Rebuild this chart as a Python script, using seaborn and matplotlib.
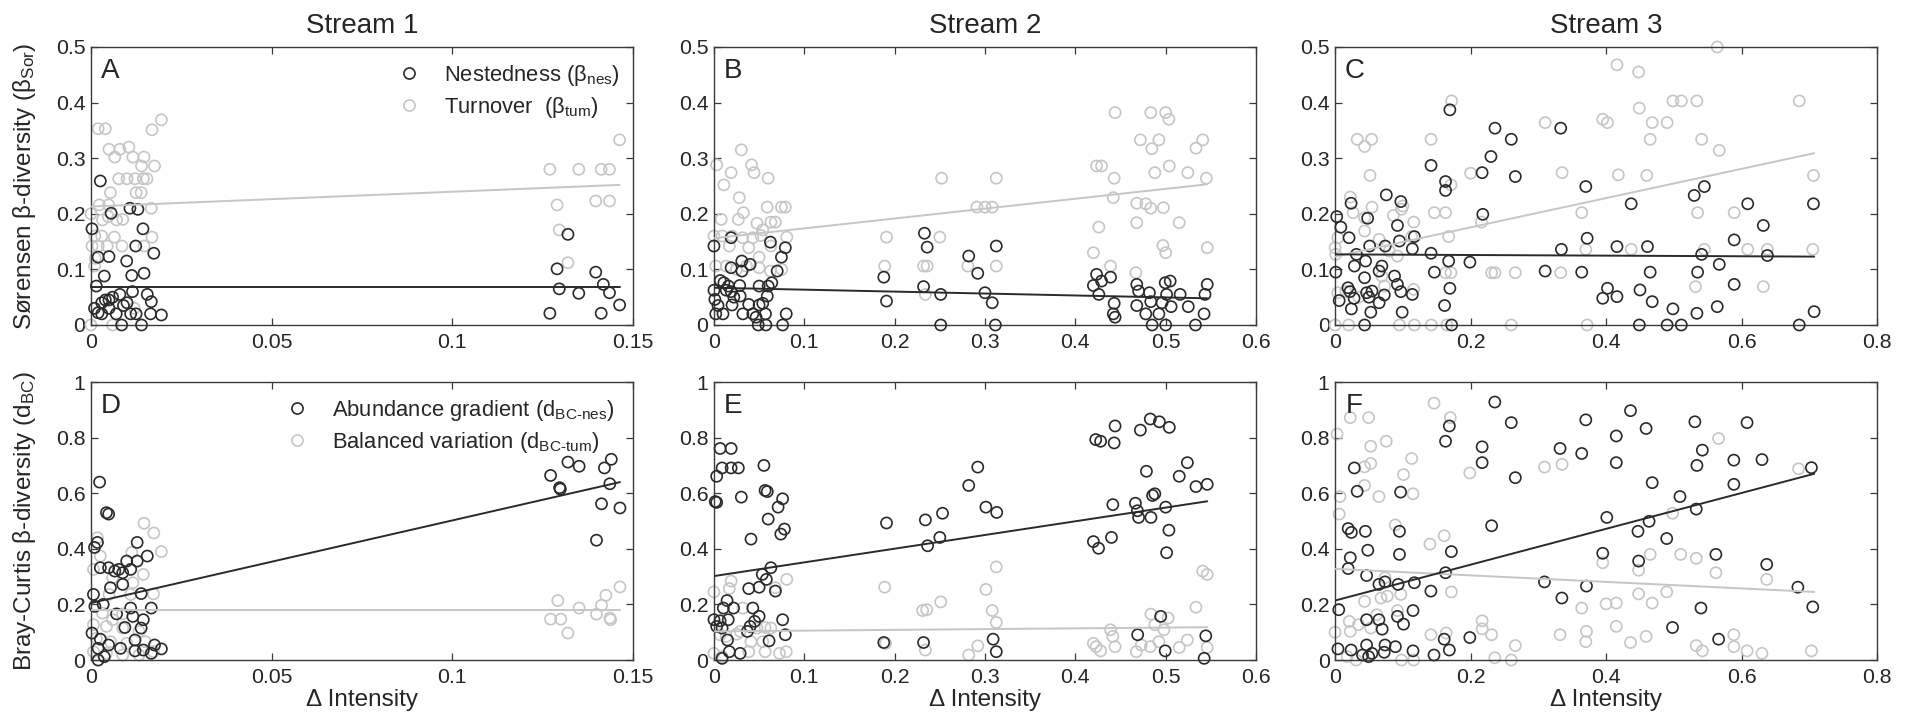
import matplotlib
matplotlib.use("Agg")
import matplotlib.pyplot as plt
import seaborn as sns
import numpy as np
from matplotlib.lines import Line2D
from matplotlib.ticker import FuncFormatter

# ---------------- data ----------------
streams = ["Stream 1", "Stream 2", "Stream 3"]
panel_letters = ["A", "B", "C", "D", "E", "F"]

A_nes = [(0.0026,0.259),(0.0003,0.173),(0.0056,0.201),(0.002,0.122),(0.005,0.123),(0.0037,0.088),(0.0099,0.115),(0.0108,0.210),(0.013,0.208),(0.0144,0.173),(0.0124,0.142),(0.0113,0.089),(0.0147,0.093),(0.0174,0.129),(0.0167,0.042),(0.0156,0.055),(0.0195,0.018),(0.014,0.0),(0.0085,0.0),(0.002,0.022),(0.003,0.04),(0.004,0.045),(0.005,0.03),(0.006,0.05),(0.008,0.055),(0.009,0.035),(0.010,0.04),(0.011,0.02),(0.0125,0.02),(0.003,0.02),(0.001,0.03),(0.007,0.02),(0.005,0.045),(0.0015,0.07),(0.0115,0.06),(0.0165,0.02),
         (0.127,0.021),(0.129,0.101),(0.1296,0.065),(0.132,0.163),(0.135,0.057),(0.1397,0.095),(0.1418,0.073),(0.1412,0.021),(0.1435,0.058),(0.1463,0.036)]
A_tum = [(0.002,0.353),(0.004,0.353),(0.005,0.316),(0.008,0.316),(0.0105,0.32),(0.0066,0.302),(0.0116,0.302),(0.0147,0.302),(0.014,0.286),(0.0176,0.286),(0.0169,0.351),(0.0195,0.369),(0.0077,0.263),(0.010,0.263),(0.0122,0.263),(0.0145,0.263),(0.0155,0.263),(0.0054,0.238),(0.0125,0.238),(0.0139,0.238),(0.0023,0.216),(0.0049,0.216),(0.0167,0.21),(0.0032,0.189),(0.0071,0.189),(0.0088,0.19),(0.0011,0.16),(0.003,0.16),(0.0065,0.158),(0.0169,0.158),(0.0003,0.142),(0.002,0.142),(0.0045,0.142),(0.0086,0.142),(0.0147,0.142),(0.001,0.106),(0.0012,0.12),(0.0,0.2),(0.0048,0.195),(0.0,0.0),(0.006,0.0),(0.012,0.03),
         (0.127,0.28),(0.135,0.28),(0.1412,0.28),(0.1435,0.28),(0.1463,0.333),(0.129,0.216),(0.1397,0.223),(0.1435,0.223),(0.1296,0.171),(0.132,0.112)]

B_nes = [(0.0,0.142),(0.019,0.157),(0.0,0.0625),(0.001,0.046),(0.0045,0.035),(0.002,0.02),(0.01,0.02),(0.011,0.076),(0.0136,0.0625),(0.019,0.06),(0.02,0.036),(0.022,0.05),(0.019,0.103),(0.031,0.097),(0.0308,0.115),(0.04,0.109),(0.0285,0.071),(0.029,0.052),(0.032,0.02),(0.0385,0.037),(0.043,0.02),(0.0466,0.014),(0.05,0.07),(0.05,0.036),(0.049,0.0),(0.054,0.039),(0.057,0.02),(0.059,0.052),(0.06,0.07),(0.0575,0.0),(0.0625,0.149),(0.064,0.076),(0.07,0.097),(0.0747,0.122),(0.079,0.139),(0.08,0.02),(0.076,0.0),(0.016,0.07),(0.007,0.08),
         (0.188,0.086),(0.191,0.043),(0.233,0.165),(0.236,0.14),(0.232,0.069),(0.251,0.055),(0.251,0.0),(0.282,0.124),(0.292,0.093),(0.30,0.058),(0.308,0.04),(0.3125,0.142),(0.3115,0.0),
         (0.4235,0.091),(0.42,0.071),(0.429,0.079),(0.426,0.055),(0.439,0.086),(0.443,0.039),(0.442,0.02),(0.444,0.014),(0.468,0.073),(0.47,0.061),(0.468,0.035),(0.482,0.058),(0.4835,0.042),(0.478,0.02),(0.485,0.0),(0.4925,0.02),(0.496,0.04),(0.4995,0.076),(0.505,0.079),(0.501,0.055),(0.506,0.033),(0.5,0.0),(0.516,0.055),(0.525,0.033),(0.533,0.0),(0.5425,0.02),(0.546,0.073),(0.5435,0.055)]
B_tum = [(0.003,0.288),(0.011,0.252),(0.019,0.274),(0.0303,0.315),(0.0417,0.288),(0.0444,0.274),(0.06,0.264),(0.028,0.229),(0.0326,0.202),(0.027,0.19),(0.008,0.19),(0.059,0.212),(0.0747,0.212),(0.079,0.212),(0.0476,0.183),(0.054,0.171),(0.063,0.185),(0.068,0.185),(0.0,0.16),(0.009,0.16),(0.017,0.142),(0.02,0.16),(0.0317,0.157),(0.043,0.157),(0.052,0.161),(0.0806,0.158),(0.0385,0.139),(0.05,0.122),(0.063,0.142),(0.002,0.106),(0.0136,0.106),(0.025,0.1),(0.036,0.106),(0.05,0.103),(0.0625,0.097),(0.075,0.1),
         (0.191,0.158),(0.189,0.106),(0.252,0.264),(0.25,0.158),(0.232,0.106),(0.236,0.106),(0.234,0.055),(0.3125,0.264),(0.3125,0.106),(0.291,0.212),(0.30,0.212),(0.308,0.212),(0.281,0.106),
         (0.444,0.382),(0.4835,0.382),(0.5,0.382),(0.5035,0.37),(0.472,0.333),(0.4925,0.333),(0.4846,0.317),(0.4235,0.286),(0.429,0.286),(0.504,0.286),(0.488,0.274),(0.443,0.264),(0.442,0.229),(0.468,0.219),(0.478,0.218),(0.4835,0.21),(0.4975,0.211),(0.426,0.176),(0.468,0.184),(0.515,0.184),(0.42,0.13),(0.497,0.143),(0.5,0.13),(0.439,0.106),(0.467,0.094),(0.5245,0.274),(0.5335,0.318),(0.541,0.333),(0.545,0.264),(0.546,0.139)]

C_nes = [(0.0024,0.195),(0.0085,0.176),(0.001,0.095),(0.006,0.044),(0.0206,0.157),(0.0236,0.219),(0.022,0.06),(0.028,0.048),(0.024,0.029),(0.019,0.067),(0.0315,0.127),(0.0285,0.106),(0.048,0.192),(0.051,0.142),(0.045,0.115),(0.0435,0.085),(0.0466,0.058),(0.05,0.05),(0.0545,0.061),(0.0527,0.023),(0.0436,0.0),(0.065,0.097),(0.069,0.106),(0.074,0.142),(0.0756,0.234),(0.0726,0.054),(0.065,0.04),(0.0877,0.088),(0.092,0.073),(0.097,0.06),(0.092,0.179),(0.095,0.151),(0.097,0.222),(0.099,0.023),(0.114,0.055),(0.114,0.137),(0.117,0.159),(0.1416,0.287),(0.1416,0.129),(0.1465,0.095),(0.163,0.258),(0.163,0.242),(0.1616,0.035),(0.1694,0.387),(0.1676,0.115),(0.1694,0.066),(0.172,0.0),(0.199,0.113),(0.217,0.274),(0.218,0.199),(0.23,0.303),(0.236,0.354),(0.26,0.334),(0.266,0.267),(0.31,0.097),(0.333,0.354),(0.334,0.136),(0.364,0.095),(0.37,0.249),(0.372,0.156),(0.395,0.048),(0.402,0.066),(0.416,0.051),(0.416,0.141),(0.437,0.218),(0.449,0.0),(0.45,0.063),(0.461,0.141),(0.465,0.095),(0.468,0.042),(0.49,0.0),(0.4986,0.029),(0.511,0.0),(0.53,0.233),(0.535,0.095),(0.534,0.021),(0.541,0.127),(0.545,0.249),(0.564,0.033),(0.567,0.109),(0.589,0.153),(0.589,0.073),(0.609,0.218),(0.632,0.179),(0.638,0.125),(0.685,0.0),(0.706,0.218),(0.707,0.024)]
C_tum = [(0.0,0.0),(0.02,0.0),(0.095,0.0),(0.117,0.0),(0.142,0.0),(0.165,0.0),(0.26,0.0),(0.372,0.0),(0.0327,0.334),(0.0436,0.321),(0.054,0.334),(0.0515,0.269),(0.0224,0.23),(0.0266,0.202),(0.0545,0.212),(0.0436,0.193),(0.0436,0.169),(0.065,0.154),(0.0,0.139),(0.004,0.157),(0.001,0.127),(0.004,0.058),(0.016,0.06),(0.035,0.05),(0.086,0.197),(0.098,0.208),(0.1,0.214),(0.116,0.185),(0.113,0.159),(0.069,0.088),(0.073,0.07),(0.08,0.133),(0.092,0.124),(0.116,0.064),(0.1416,0.334),(0.1465,0.202),(0.163,0.202),(0.172,0.403),(0.1676,0.159),(0.171,0.252),(0.163,0.094),(0.171,0.094),(0.2,0.273),(0.216,0.185),(0.231,0.094),(0.236,0.094),(0.266,0.094),(0.31,0.364),(0.335,0.274),(0.333,0.094),(0.364,0.202),(0.37,0.136),(0.395,0.37),(0.402,0.364),(0.416,0.468),(0.418,0.27),(0.437,0.136),(0.448,0.455),(0.449,0.39),(0.465,0.334),(0.468,0.364),(0.46,0.269),(0.49,0.364),(0.4986,0.403),(0.511,0.403),(0.534,0.403),(0.541,0.334),(0.535,0.202),(0.532,0.069),(0.545,0.136),(0.564,0.5),(0.567,0.314),(0.589,0.202),(0.609,0.136),(0.632,0.069),(0.638,0.136),(0.685,0.403),(0.706,0.269),(0.705,0.136)]

D_nes = [(0.0024,0.64),(0.0049,0.525),(0.0043,0.53),(0.0018,0.423),(0.001,0.405),(0.0128,0.423),(0.0128,0.356),(0.0156,0.374),(0.0099,0.356),(0.011,0.326),(0.0026,0.332),(0.0049,0.332),(0.0066,0.32),(0.0077,0.326),(0.0088,0.314),(0.0088,0.272),(0.0054,0.26),(0.0007,0.236),(0.0139,0.239),(0.0011,0.193),(0.0034,0.2),(0.0071,0.166),(0.0167,0.187),(0.011,0.187),(0.0116,0.157),(0.0145,0.145),(0.0139,0.115),(0.0094,0.117),(0.0003,0.097),(0.0026,0.075),(0.002,0.042),(0.0049,0.054),(0.0082,0.042),(0.0122,0.033),(0.0145,0.036),(0.0122,0.072),(0.0167,0.024),(0.0176,0.054),(0.0195,0.04),(0.002,0.0),(0.0037,0.012),
         (0.1272,0.664),(0.1297,0.62),(0.1299,0.615),(0.132,0.712),(0.1351,0.697),(0.1421,0.691),(0.144,0.722),(0.1436,0.634),(0.1413,0.562),(0.1464,0.547),(0.1399,0.431)]
D_tum = [(0.0147,0.492),(0.0174,0.457),(0.0195,0.39),(0.0018,0.44),(0.0007,0.326),(0.0026,0.374),(0.006,0.296),(0.0116,0.278),(0.0145,0.308),(0.0113,0.387),(0.005,0.236),(0.011,0.236),(0.0173,0.238),(0.0032,0.169),(0.006,0.145),(0.0088,0.166),(0.0007,0.127),(0.0043,0.121),(0.0088,0.115),(0.0133,0.103),(0.0015,0.078),(0.0054,0.066),(0.0099,0.06),(0.015,0.066),(0.0007,0.03),(0.0043,0.024),(0.0088,0.018),(0.0133,0.018),(0.0173,0.03),
         (0.1464,0.263),(0.1425,0.233),(0.1413,0.197),(0.1292,0.214),(0.1351,0.187),(0.1272,0.147),(0.13,0.147),(0.1399,0.165),(0.1436,0.151),(0.1438,0.145),(0.132,0.097)]

E_nes = [(0.0068,0.761),(0.019,0.761),(0.003,0.661),(0.009,0.691),(0.019,0.691),(0.027,0.691),(0.0014,0.57),(0.003,0.567),(0.0303,0.586),(0.0553,0.7),(0.0566,0.61),(0.059,0.606),(0.06,0.507),(0.071,0.55),(0.076,0.58),(0.078,0.471),(0.074,0.453),(0.041,0.435),(0.063,0.332),(0.0535,0.308),(0.058,0.29),(0.068,0.248),(0.0385,0.257),(0.05,0.262),(0.0145,0.214),(0.0104,0.187),(0.0217,0.187),(0.0,0.145),(0.0068,0.141),(0.0158,0.145),(0.003,0.121),(0.009,0.115),(0.043,0.187),(0.05,0.157),(0.045,0.139),(0.04,0.121),(0.037,0.103),(0.076,0.145),(0.079,0.091),(0.061,0.069),(0.015,0.072),(0.017,0.03),(0.029,0.024),(0.009,0.006),
         (0.191,0.493),(0.234,0.504),(0.253,0.528),(0.2365,0.411),(0.25,0.441),(0.188,0.063),(0.232,0.063),(0.282,0.628),(0.292,0.694),(0.301,0.55),(0.313,0.531),(0.309,0.075),(0.3125,0.03),
         (0.4226,0.793),(0.428,0.787),(0.443,0.781),(0.444,0.842),(0.42,0.426),(0.4257,0.402),(0.44,0.441),(0.4415,0.559),(0.472,0.827),(0.483,0.867),(0.493,0.857),(0.504,0.837),(0.4787,0.679),(0.4665,0.564),(0.4687,0.537),(0.47,0.513),(0.4837,0.513),(0.4855,0.592),(0.488,0.598),(0.5,0.55),(0.5036,0.467),(0.501,0.386),(0.515,0.661),(0.524,0.71),(0.5335,0.624),(0.546,0.632),(0.469,0.091),(0.4945,0.157),(0.4995,0.033),(0.5426,0.006),(0.5444,0.087)]
E_tum = [(0.0,0.245),(0.019,0.284),(0.017,0.257),(0.032,0.187),(0.0806,0.29),(0.068,0.26),(0.0068,0.091),(0.0136,0.085),(0.029,0.103),(0.041,0.066),(0.0475,0.115),(0.0566,0.117),(0.063,0.115),(0.054,0.066),(0.0,0.024),(0.009,0.012),(0.0385,0.03),(0.0566,0.03),(0.0725,0.024),(0.08,0.03),(0.025,0.093),
         (0.189,0.262),(0.231,0.178),(0.2355,0.181),(0.251,0.209),(0.19,0.06),(0.234,0.036),(0.3125,0.335),(0.301,0.254),(0.308,0.178),(0.3125,0.135),(0.292,0.051),(0.282,0.018),
         (0.439,0.109),(0.4415,0.085),(0.444,0.048),(0.42,0.06),(0.423,0.048),(0.428,0.033),(0.4675,0.03),(0.473,0.054),(0.4837,0.165),(0.488,0.127),(0.4925,0.066),(0.498,0.109),(0.5027,0.151),(0.483,0.048),(0.515,0.045),(0.524,0.072),(0.5335,0.19),(0.541,0.32),(0.546,0.308),(0.546,0.045)]

F_nes = [(0.2357,0.928),(0.26,0.854),(0.37,0.864),(0.436,0.897),(0.531,0.857),(0.608,0.854),(0.1686,0.842),(0.163,0.787),(0.217,0.767),(0.217,0.71),(0.332,0.761),(0.364,0.743),(0.415,0.806),(0.415,0.71),(0.459,0.833),(0.534,0.7),(0.542,0.755),(0.5885,0.719),(0.63,0.721),(0.703,0.692),(0.0284,0.691),(0.0326,0.607),(0.0967,0.604),(0.266,0.656),(0.468,0.638),(0.5885,0.632),(0.509,0.588),(0.533,0.543),(0.401,0.513),(0.4634,0.499),(0.447,0.463),(0.4894,0.437),(0.231,0.483),(0.0193,0.473),(0.024,0.459),(0.0447,0.463),(0.095,0.463),(0.0224,0.368),(0.0483,0.395),(0.095,0.38),(0.1716,0.39),(0.0193,0.329),(0.0465,0.304),(0.163,0.314),(0.395,0.384),(0.448,0.356),(0.562,0.38),(0.637,0.344),(0.0647,0.272),(0.0737,0.281),(0.093,0.272),(0.117,0.278),(0.309,0.281),(0.371,0.266),(0.683,0.262),(0.1414,0.248),(0.3347,0.223),(0.0054,0.181),(0.115,0.178),(0.54,0.187),(0.705,0.191),(0.0465,0.145),(0.0647,0.145),(0.092,0.157),(0.101,0.129),(0.0695,0.111),(0.498,0.117),(0.0042,0.04),(0.0236,0.036),(0.0465,0.054),(0.0737,0.054),(0.089,0.048),(0.0405,0.018),(0.0495,0.012),(0.0544,0.024),(0.0725,0.028),(0.115,0.033),(0.146,0.018),(0.161,0.075),(0.1686,0.036),(0.1988,0.081),(0.566,0.075)]
F_tum = [(0.146,0.924),(0.0224,0.872),(0.0495,0.872),(0.17,0.872),(0.003,0.813),(0.0755,0.787),(0.0526,0.769),(0.566,0.797),(0.113,0.725),(0.0526,0.707),(0.0435,0.695),(0.1988,0.673),(0.309,0.694),(0.335,0.704),(0.684,0.688),(0.101,0.667),(0.0435,0.628),(0.0072,0.588),(0.0647,0.588),(0.115,0.598),(0.006,0.525),(0.498,0.528),(0.0888,0.486),(0.161,0.447),(0.14,0.417),(0.51,0.38),(0.533,0.366),(0.465,0.38),(0.395,0.35),(0.448,0.323),(0.562,0.314),(0.637,0.29),(0.0737,0.296),(0.1716,0.245),(0.0435,0.211),(0.0677,0.223),(0.077,0.23),(0.097,0.236),(0.4,0.202),(0.415,0.205),(0.448,0.238),(0.468,0.205),(0.4894,0.245),(0.364,0.187),(0.021,0.139),(0.0344,0.127),(0.0616,0.163),(0.092,0.178),(0.0,0.1),(0.0224,0.103),(0.0526,0.115),(0.217,0.141),(0.231,0.091),(0.217,0.112),(0.1414,0.091),(0.164,0.097),(0.371,0.103),(0.37,0.066),(0.332,0.091),(0.415,0.121),(0.436,0.063),(0.459,0.085),(0.5885,0.091),(0.5885,0.048),(0.608,0.033),(0.63,0.024),(0.703,0.033),(0.533,0.052),(0.542,0.033),(0.266,0.052),(0.2357,0.008),(0.26,0.0),(0.031,0.0),(0.098,0.0),(0.116,0.0),(0.018,0.012)]

# fitted trend lines (x-range, y at ends)
A_fit_nes = ([0.0, 0.1463], [0.069, 0.069]); A_fit_tum = ([0.0, 0.1463], [0.213, 0.252])
B_fit_nes = ([0.0, 0.546], [0.067, 0.048]);  B_fit_tum = ([0.0, 0.546], [0.156, 0.253])
C_fit_nes = ([0.0, 0.707], [0.127, 0.123]);  C_fit_tum = ([0.0, 0.707], [0.123, 0.309])
D_fit_nes = ([0.0, 0.1464], [0.205, 0.64]);  D_fit_tum = ([0.0, 0.1464], [0.181, 0.181])
E_fit_nes = ([0.0, 0.546], [0.302, 0.571]);  E_fit_tum = ([0.0, 0.546], [0.103, 0.118])
F_fit_nes = ([0.0, 0.707], [0.214, 0.67]);   F_fit_tum = ([0.0, 0.707], [0.328, 0.245])

x_ticks = [[0, 0.05, 0.1, 0.15], [0, 0.1, 0.2, 0.3, 0.4, 0.5, 0.6], [0, 0.2, 0.4, 0.6, 0.8]]
y_ticks_top = [0, 0.1, 0.2, 0.3, 0.4, 0.5]
y_ticks_bottom = [0, 0.2, 0.4, 0.6, 0.8, 1]

# ---------------- style ----------------
sns.set_style("ticks")
plt.rcParams["font.family"] = ["Liberation Sans", "DejaVu Sans"]
plt.rcParams["mathtext.fontset"] = "custom"
plt.rcParams["mathtext.rm"] = "Liberation Sans"
plt.rcParams["mathtext.it"] = "Liberation Sans:italic"
plt.rcParams["mathtext.default"] = "regular"

BLACK = "#2a2a2a"
GRAY = "#c6c6c6"
FRAME = "#3a3a3a"

fig = plt.figure(figsize=(19.1, 7.23), dpi=100)
lefts = [0.0476, 0.3738, 0.6990]
bottoms = [0.5505, 0.0871]
W, H = 0.2838, 0.3845

series = [(A_nes, A_tum, A_fit_nes, A_fit_tum), (B_nes, B_tum, B_fit_nes, B_fit_tum),
          (C_nes, C_tum, C_fit_nes, C_fit_tum), (D_nes, D_tum, D_fit_nes, D_fit_tum),
          (E_nes, E_tum, E_fit_nes, E_fit_tum), (F_nes, F_tum, F_fit_nes, F_fit_tum)]

fmt = FuncFormatter(lambda v, p: f"{v:g}")
MS = 64
TICK_FS = 15.3

for i, (nes, tum, fit_nes, fit_tum) in enumerate(series):
    r, c = divmod(i, 3)
    ax = fig.add_axes([lefts[c], bottoms[r], W, H])
    tx, ty = zip(*tum)
    nx, ny = zip(*nes)
    sns.scatterplot(x=list(tx), y=list(ty), ax=ax, s=MS, facecolors="none",
                    edgecolor=GRAY, linewidth=1.2, clip_on=False, zorder=2, legend=False)
    sns.scatterplot(x=list(nx), y=list(ny), ax=ax, s=MS, facecolors="none",
                    edgecolor=BLACK, linewidth=1.2, clip_on=False, zorder=3, legend=False)
    sns.lineplot(x=fit_tum[0], y=fit_tum[1], ax=ax, color=GRAY, linewidth=1.4, zorder=4, legend=False)
    sns.lineplot(x=fit_nes[0], y=fit_nes[1], ax=ax, color=BLACK, linewidth=1.4, zorder=5, legend=False)

    xt = x_ticks[c]
    yt = y_ticks_top if r == 0 else y_ticks_bottom
    ax.set_xlim(xt[0], xt[-1])
    ax.set_ylim(yt[0], yt[-1])
    ax.set_xticks(xt)
    ax.set_yticks(yt)
    ax.xaxis.set_major_formatter(fmt)
    ax.yaxis.set_major_formatter(fmt)
    ax.tick_params(direction="in", top=True, right=True, length=5, width=0.9,
                   labelsize=TICK_FS, color=FRAME)
    ax.tick_params(axis="x", pad=6)
    ax.tick_params(axis="y", pad=4)
    for sp in ax.spines.values():
        sp.set_visible(True)
        sp.set_color(FRAME)
        sp.set_linewidth(1.0)
    ax.set_xlabel("")
    ax.set_ylabel("")
    ax.text(0.036, 0.915, panel_letters[i], transform=ax.transAxes, fontsize=20,
            ha="center", va="center")
    if r == 0:
        ax.set_title(streams[c], fontsize=20, pad=10)
    else:
        ax.set_xlabel("\u0394 Intensity", fontsize=17.5, labelpad=1)
    if c == 0:
        if r == 0:
            ax.set_ylabel("S\u00f8rensen \u03b2-diversity (\u03b2$_{Sor}$)", fontsize=17.5)
            labels = ["Nestedness (\u03b2$_{nes}$)", "Turnover  (\u03b2$_{tum}$)"]
            anchor = (0.566, 0.943)
        else:
            ax.set_ylabel("Bray-Curtis \u03b2-diversity (d$_{BC}$)", fontsize=17.5)
            labels = ["Abundance gradient (d$_{\\text{BC-nes}}$)", "Balanced variation (d$_{\\text{BC-tum}}$)"]
            anchor = (0.36, 0.943)
        ax.yaxis.set_label_coords(-0.097, 0.5)
        handles = [Line2D([], [], ls="none", marker="o", mfc="none", mec=BLACK, mew=1.2, ms=8),
                   Line2D([], [], ls="none", marker="o", mfc="none", mec=GRAY, mew=1.2, ms=8)]
        ax.legend(handles, labels, loc="upper left", bbox_to_anchor=anchor, frameon=False,
                  fontsize=15.8, handlelength=1.0, handletextpad=1.1, labelspacing=0.33,
                  borderpad=0, borderaxespad=0)

fig.savefig("out.png", dpi=100)
